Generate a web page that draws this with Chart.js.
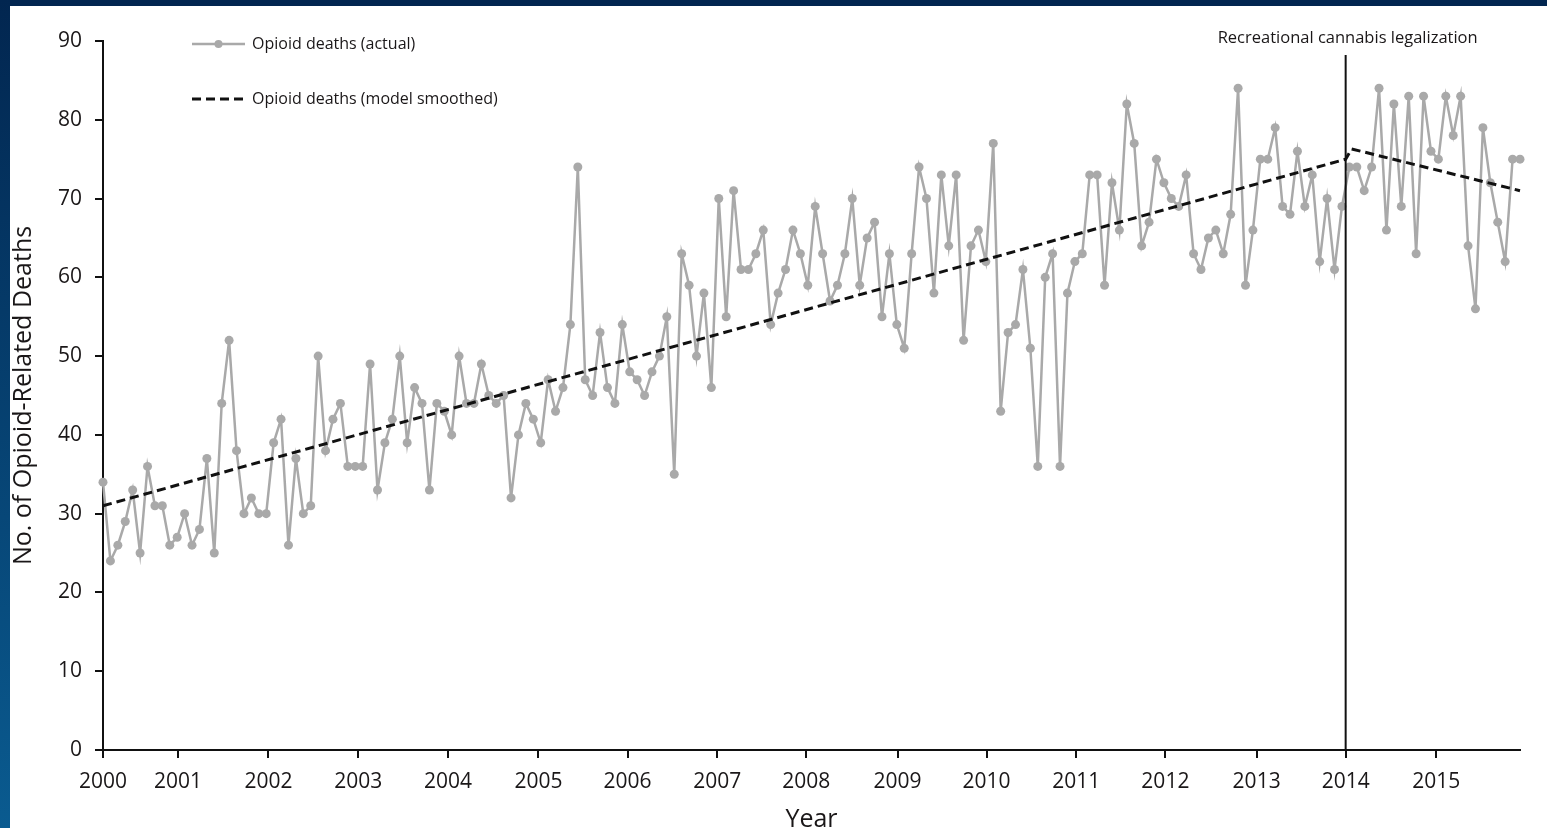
<!DOCTYPE html>
<html>
<head>
<meta charset="utf-8">
<title>Opioid-related deaths</title>
<script src="https://cdn.jsdelivr.net/npm/chart.js@4.4.1/dist/chart.umd.min.js"></script>
<style>
  html, body { margin: 0; padding: 0; background: #fff; overflow: hidden; }
  #wrap { position: relative; width: 1547px; height: 828px; overflow: hidden; background: #fff; }
  #topBand { position: absolute; left: 0; top: 0; width: 1547px; height: 6px; background: #022650; z-index: 2; }
  #leftBand { position: absolute; left: 0; top: 0; width: 10px; height: 828px; background: linear-gradient(#022650, #0a5b90); z-index: 2; }
  #chart { position: absolute; left: 0; top: 0; }
</style>
</head>
<body>
<div id="wrap">
  <div id="topBand"></div>
  <div id="leftBand"></div>
  <canvas id="chart" width="1547" height="850"></canvas>
</div>
<script>
// Year tick labels and where they sit on the month-index axis
const yearLabels = ['2000', '2001', '2002', '2003', '2004', '2005', '2006', '2007',
  '2008', '2009', '2010', '2011', '2012', '2013', '2014', '2015'];
const yearTickPos = [0, 10.1, 22.3, 34.4, 46.5, 58.7, 70.7, 82.8,
  94.8, 107.1, 119.1, 131.2, 143.2, 155.5, 167.5, 179.7];

// Monthly opioid deaths (actual)
const actualDeaths = [
  34, 24, 26, 29, 33, 25, 36, 31, 31, 26,
  27, 30, 26, 28, 37, 25, 44, 52, 38, 30,
  32, 30, 30, 39, 42, 26, 37, 30, 31, 50,
  38, 42, 44, 36, 36, 36, 49, 33, 39, 42,
  50, 39, 46, 44, 33, 44, 43, 40, 50, 44,
  44, 49, 45, 44, 45, 32, 40, 44, 42, 39,
  47, 43, 46, 54, 74, 47, 45, 53, 46, 44,
  54, 48, 47, 45, 48, 50, 55, 35, 63, 59,
  50, 58, 46, 70, 55, 71, 61, 61, 63, 66,
  54, 58, 61, 66, 63, 59, 69, 63, 57, 59,
  63, 70, 59, 65, 67, 55, 63, 54, 51, 63,
  74, 70, 58, 73, 64, 73, 52, 64, 66, 62,
  77, 43, 53, 54, 61, 51, 36, 60, 63, 36,
  58, 62, 63, 73, 73, 59, 72, 66, 82, 77,
  64, 67, 75, 72, 70, 69, 73, 63, 61, 65,
  66, 63, 68, 84, 59, 66, 75, 75, 79, 69,
  68, 76, 69, 73, 62, 70, 61, 69, 74, 74,
  71, 74, 84, 66, 82, 69, 83, 63, 83, 76,
  75, 83, 78, 83, 64, 56, 79, 72, 67, 62,
  75, 75
];

// Model smoothed trend (segmented at legalization)
const modelX = [0, 167.5, 168.3, 191];
const modelY = [31, 75, 76.3, 71];

const legalizationX = 167.5;
const legalizationLabel = 'Recreational cannabis legalization';
const seriesNames = ['Opioid deaths (actual)', 'Opioid deaths (model smoothed)'];

const TEXT = '#1a1718';
const GREY = '#a9a9a9';
const FONT = '"Open Sans", "DejaVu Sans", sans-serif';

// legend + legalization marker
const overlay = {
  id: 'overlay',
  afterDatasetsDraw(chart) {
    const { ctx, chartArea, scales } = chart;
    const px = scales.x.getPixelForValue(legalizationX);
    ctx.save();

    ctx.strokeStyle = '#111';
    ctx.lineWidth = 2;
    ctx.beginPath();
    ctx.moveTo(px, chartArea.top + 14);
    ctx.lineTo(px, chartArea.bottom);
    ctx.stroke();

    ctx.font = '16.5px ' + FONT;
    ctx.fillStyle = TEXT;
    ctx.textAlign = 'center';
    ctx.textBaseline = 'middle';
    ctx.fillText(legalizationLabel, px + 2, chartArea.top - 3);

    const lx0 = chartArea.left + 89;
    const lx1 = chartArea.left + 142;
    const ly1 = chartArea.top + 3;
    const ly2 = chartArea.top + 58;

    ctx.strokeStyle = GREY;
    ctx.lineWidth = 2.5;
    ctx.beginPath();
    ctx.moveTo(lx0, ly1);
    ctx.lineTo(lx1, ly1);
    ctx.stroke();
    ctx.fillStyle = GREY;
    ctx.beginPath();
    ctx.arc((lx0 + lx1) / 2, ly1, 4, 0, Math.PI * 2);
    ctx.fill();

    ctx.strokeStyle = '#111';
    ctx.lineWidth = 3;
    ctx.setLineDash([9, 5]);
    ctx.beginPath();
    ctx.moveTo(lx0, ly2);
    ctx.lineTo(lx1, ly2);
    ctx.stroke();
    ctx.setLineDash([]);

    ctx.font = '16px ' + FONT;
    ctx.fillStyle = TEXT;
    ctx.textAlign = 'left';
    ctx.fillText(seriesNames[0], lx1 + 7, ly1);
    ctx.fillText(seriesNames[1], lx1 + 7, ly2);
    ctx.restore();
  }
};

function build() {
  const ctx = document.getElementById('chart').getContext('2d');
  new Chart(ctx, {
    type: 'line',
    data: {
      datasets: [
        {
          label: seriesNames[1],
          data: modelX.map((x, i) => ({ x, y: modelY[i] })),
          borderColor: '#111',
          borderWidth: 3,
          borderDash: [9, 5],
          pointRadius: 0,
          tension: 0,
          clip: false,
          order: 0
        },
        {
          label: seriesNames[0],
          data: actualDeaths.map((v, i) => ({ x: i, y: v })),
          borderColor: GREY,
          borderWidth: 2.5,
          pointRadius: 4.5,
          pointBackgroundColor: GREY,
          pointBorderWidth: 0,
          tension: 0,
          clip: false,
          order: 1
        }
      ]
    },
    options: {
      responsive: false,
      animation: false,
      events: [],
      layout: { padding: { top: 41, right: 27, left: 0, bottom: 0 } },
      plugins: { legend: { display: false }, tooltip: { enabled: false } },
      scales: {
        x: {
          type: 'linear',
          min: 0,
          max: actualDeaths.length - 1,
          afterFit(s) { s.height = 100; },
          afterBuildTicks(s) { s.ticks = yearTickPos.map(v => ({ value: v })); },
          ticks: {
            autoSkip: false,
            maxRotation: 0,
            padding: 11,
            color: TEXT,
            font: { family: FONT, size: 21 },
            callback: (v, i) => yearLabels[i]
          },
          grid: { drawOnChartArea: false, color: '#111', lineWidth: 2, tickLength: 8 },
          border: { color: '#111', width: 2 },
          title: {
            display: true,
            text: 'Year',
            color: TEXT,
            font: { family: FONT, size: 25 },
            padding: { top: 0, bottom: 15 }
          }
        },
        y: {
          min: 0,
          max: 90,
          afterFit(s) { s.width = 103; },
          ticks: {
            stepSize: 10,
            padding: 13,
            color: TEXT,
            font: { family: FONT, size: 21 }
          },
          grid: { drawOnChartArea: false, color: '#111', lineWidth: 2, tickLength: 8 },
          border: { color: '#111', width: 2 },
          title: {
            display: true,
            text: 'No. of Opioid-Related Deaths',
            color: TEXT,
            font: { family: FONT, size: 25 },
            padding: { top: 9, bottom: 0 }
          }
        }
      }
    },
    plugins: [overlay]
  });
}

document.fonts.load('20px "Open Sans"').then(build, build);
</script>
</body>
</html>
